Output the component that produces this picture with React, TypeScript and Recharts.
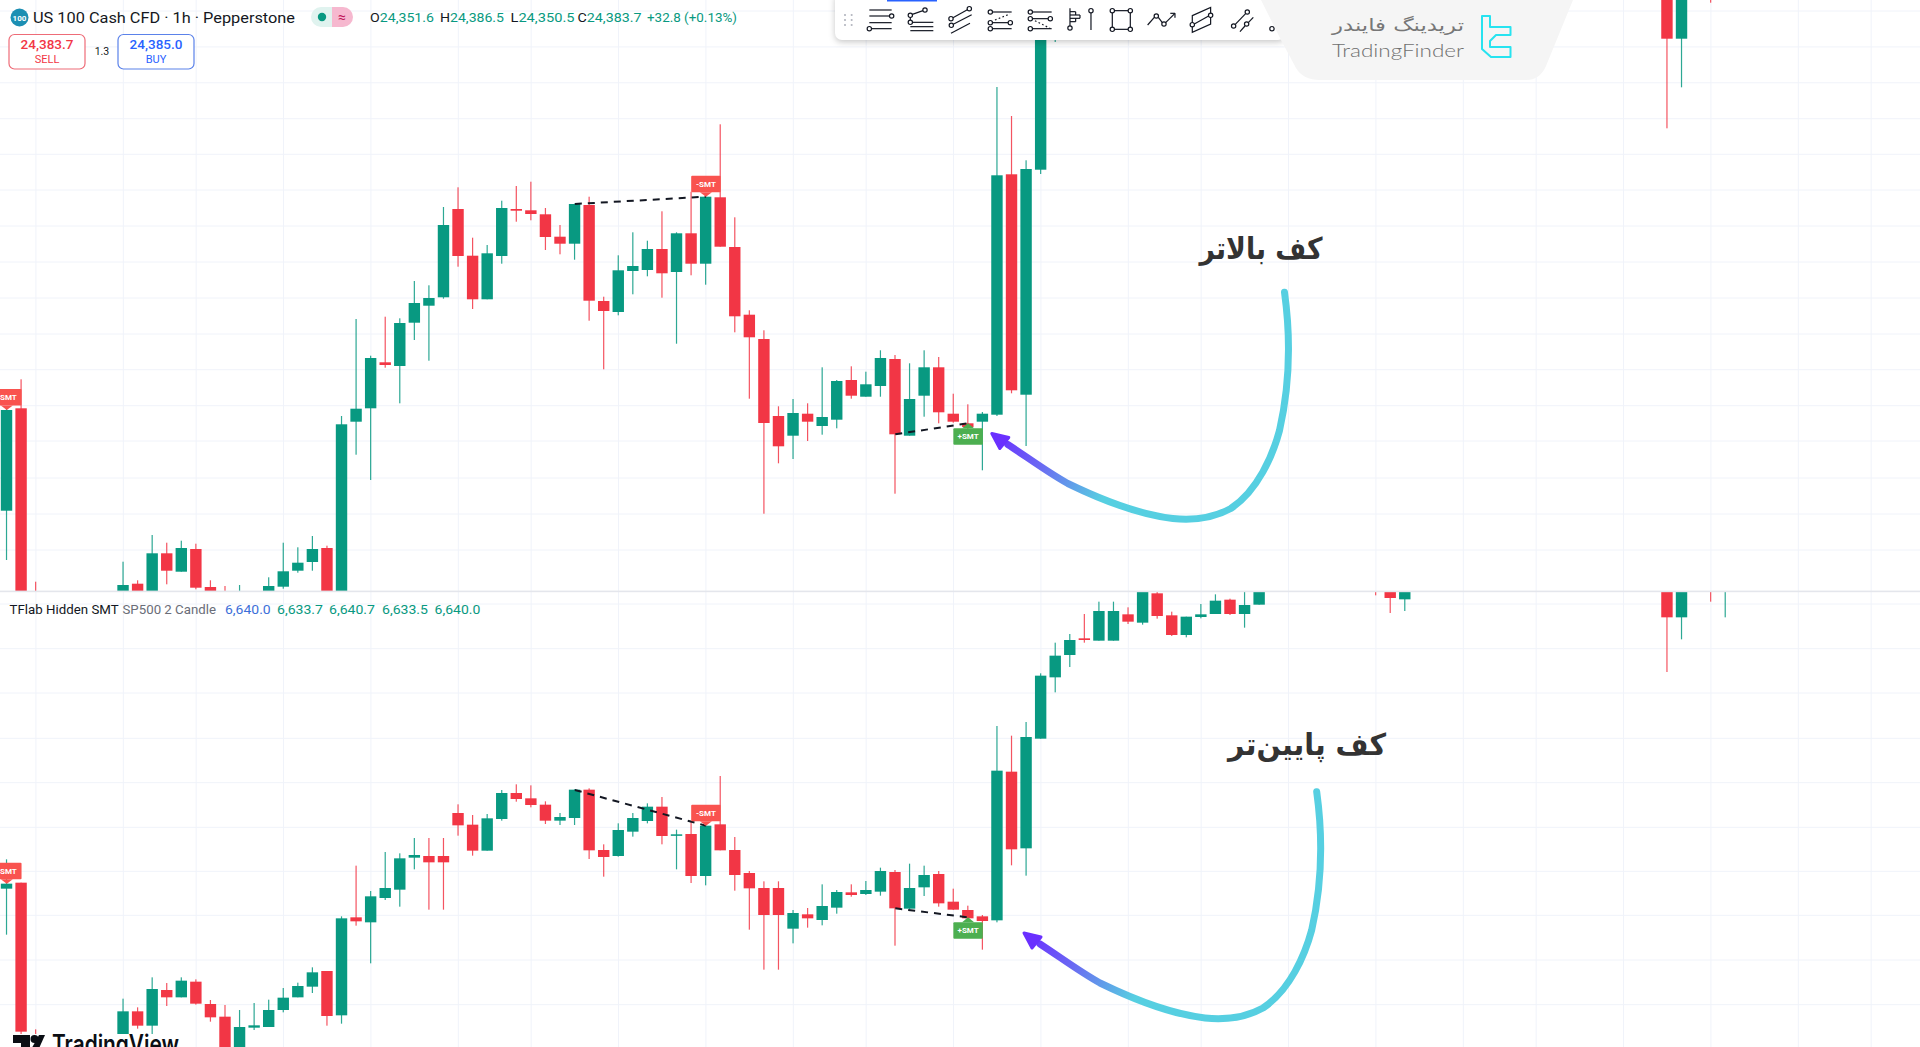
import React from 'react';
import { ComposedChart, Bar, XAxis, YAxis, CartesianGrid, ReferenceLine, ReferenceDot } from 'recharts';

// [bar index, open, high, low, close]
const topCandles: number[][] = [
  [0,24079.3,24182,24030,24180],[1,24181.7,24210.7,23950,23970],[2,23980,24008.3,23960,23970],
  [8,23990,24028.3,23980,24005],[9,24006.3,24009.7,23985,23990],[10,23990,24055,23985,24036.7],
  [11,24036.7,24047.3,24005.7,24019.3],[12,24018.3,24049.3,24018.3,24042],[13,24041,24046.3,24000.7,24002.3],
  [14,24003,24009.7,23985,23990],[15,23990,24004,23975,23980],[16,23980,24005,23975,23990],
  [18,23990,24012.7,23985,24004],[19,24003.3,24047.3,24001.3,24018.7],[20,24019.3,24042.7,24017.3,24027.3],
  [21,24028,24054,24019.3,24041],[22,24042,24044.3,23985,23990],[23,23990,24174,23985,24165.7],
  [24,24168.3,24271,24135.3,24181.3],[25,24181.7,24234.3,24110,24232],[26,24227.7,24273.3,24222.3,24225],
  [27,24224,24271.7,24186.7,24267],[28,24267.3,24309,24250,24287],[29,24284.3,24304.7,24229.3,24292],
  [30,24292.7,24383,24291.3,24365],[31,24381,24402.7,24323.3,24334],[32,24334.3,24352.3,24281,24290.7],
  [33,24290.7,24345,24290.7,24336.7],[34,24334,24389.3,24326.3,24382],[35,24381,24404,24368.3,24379.3],
  [36,24379.7,24408.3,24369.7,24376],[37,24375.7,24382,24340,24353],[38,24353.3,24365,24335.7,24346.3],
  [39,24346.3,24386.3,24330.3,24386],[40,24385,24393.3,24269.3,24289.3],[41,24289,24293.3,24220.7,24279],
  [42,24278,24334.7,24274.7,24319.7],[43,24319,24357.7,24295.7,24324],[44,24320,24349.3,24313.7,24341],
  [45,24341,24378.7,24292.3,24316.7],[46,24318,24357.7,24246.3,24356.7],[47,24356.7,24398.3,24314.7,24326.3],
  [48,24326.3,24395,24305.3,24393.3],[49,24392.7,24465.7,24343.3,24343.3],[50,24343,24372.7,24257.7,24273.7],
  [51,24275.3,24279.7,24191.3,24252.7],[52,24251,24259.7,24076.3,24167],[53,24174,24183.7,24126.7,24143.7],
  [54,24154.3,24191,24131,24177],[55,24176.3,24186.7,24149,24168.3],[56,24164,24222.7,24155.3,24173],
  [57,24170.3,24210,24161.7,24209],[58,24210,24223.7,24191.3,24194.3],[59,24193.3,24218.3,24193.3,24205.7],
  [60,24204,24239.7,24193.3,24232],[61,24231,24235,24096.3,24155.7],[62,24154.3,24226.7,24154.3,24191],
  [63,24194.3,24239.7,24173.3,24222.7],[64,24222.7,24233,24166.7,24177.7],[65,24176.3,24196.3,24167.3,24168.3],
  [66,24166.7,24185.7,24160,24163],[67,24168.3,24178,24119.7,24176.3],[68,24175.3,24503,24174,24414.7],
  [69,24415.7,24474,24196.7,24199.7],[70,24195.3,24429.7,24144,24421],[71,24420.3,24620,24416,24610],
  [72,24600,24650,24548,24630],[114,24610,24620,24461.7,24551.3],[115,24551.3,24620,24502.7,24610],
  [117,24630,24640,24587.3,24620],
];

const bottomCandles: number[][] = [
  [0,6610.4,6619.2,6596.6,6611.9],[1,6612.2,6612.2,6565.5,6567.5],[2,6560,6568.2,6557,6558],
  [8,6561,6577.4,6560,6573.6],[9,6573.6,6574.8,6568.4,6569.3],[10,6569.3,6583.8,6566.3,6580.3],
  [11,6580,6582.1,6575.2,6577.8],[12,6577.8,6583.8,6577.8,6582.8],[13,6582.5,6583.2,6575.6,6575.9],
  [14,6575.8,6577,6570.5,6571.8],[15,6572,6575.5,6558,6560],[16,6560,6574,6558,6568.9],
  [17,6568.7,6576.1,6568,6569.4],[18,6568.9,6577.1,6568.9,6574],[19,6574,6580.6,6573.3,6577.7],
  [20,6577.8,6582.2,6577.8,6581.2],[21,6581,6586.8,6579.1,6585.3],[22,6585.7,6585.7,6569.3,6572.2],
  [23,6572.4,6602.1,6569.9,6601.5],[24,6601.8,6617.3,6599.3,6600.6],[25,6600.3,6609.7,6588,6608.1],
  [26,6607.6,6621.4,6607,6610.6],[27,6610.1,6621,6605,6619.5],[28,6619.7,6625.6,6616.2,6620.5],
  [29,6620.2,6625.6,6604.1,6618.3],[30,6620.2,6625.6,6604.1,6618.3],[31,6633.1,6635.7,6626.3,6629.4],
  [32,6629.6,6632.5,6620.3,6621.8],[33,6621.8,6632.8,6621.8,6631.5],[34,6631.3,6640,6630.8,6639.1],
  [35,6639.1,6641.7,6636.5,6637.3],[36,6637.5,6641.4,6634.8,6635.5],[37,6635.6,6636.6,6629.8,6630.8],
  [38,6630.8,6633.1,6629.5,6631.9],[39,6631.6,6640.2,6629.5,6640.1],[40,6640.1,6640.5,6619.3,6621.9],
  [41,6622,6623.7,6614,6619.9],[42,6620.2,6630,6620,6628],[43,6627.5,6633.1,6626,6631.6],
  [44,6630.7,6636,6630,6635],[45,6635,6637.9,6623.7,6626.2],[46,6626.3,6628.1,6616.2,6626.7],
  [47,6626.8,6630.5,6612.1,6614.2],[48,6614.2,6629.8,6611.4,6629.3],[49,6629.7,6644.2,6621.9,6621.9],
  [50,6622,6625.9,6609.8,6614.5],[51,6615.1,6615.7,6598.1,6610.5],[52,6610.6,6612.6,6586.1,6602.5],
  [53,6610.6,6612.6,6586.1,6602.5],[54,6598.4,6604,6594,6603.1],[55,6602.7,6604.6,6598.7,6601.5],
  [56,6601,6611.7,6599.4,6605.2],[57,6604.7,6610,6602.9,6609.4],[58,6609.3,6611.7,6608,6608.5],
  [59,6608.8,6612.7,6608.5,6610],[60,6609.5,6616.7,6608.3,6615.7],[61,6615.4,6616,6593.3,6604.5],
  [62,6604.4,6617.9,6604.2,6610.6],[63,6610.8,6617.3,6608.2,6614.5],[64,6614.8,6615.7,6605,6606],
  [65,6606.5,6610.4,6604,6604.1],[66,6604,6605.3,6601,6601.5],[67,6602.1,6602.5,6592.1,6600.7],
  [68,6600.9,6659.2,6600.3,6645.8],[69,6645.5,6656.3,6617.4,6622.2],[70,6622.5,6660.4,6614.3,6655.9],
  [71,6655.4,6675,6655.4,6674.3],[72,6673.8,6684.2,6669.3,6680.3],[73,6680.5,6686.8,6676.9,6685],
  [74,6685.5,6692.8,6684.2,6685],[75,6684.8,6696.5,6684.8,6693.7],[76,6684.8,6696.5,6684.8,6693.7],
  [77,6692.7,6694.8,6689.8,6690.5],[78,6690.2,6704,6689.6,6703],[79,6699,6699.4,6691.4,6692.2],
  [80,6692.4,6693.5,6686.2,6686.5],[81,6686.5,6692,6685.8,6692],[82,6691.9,6695.8,6691.5,6692.7],
  [83,6692.8,6698.7,6692.8,6696.8],[84,6697.1,6697.4,6692.5,6692.8],[85,6692.8,6699.4,6688.7,6695.5],
  [86,6695.6,6702,6695.6,6701],[94,6704,6705,6698.4,6702],[95,6702,6703,6693.1,6697.6],
  [96,6697.2,6703,6693.7,6702],[114,6702,6703,6675.4,6691.8],[115,6691.8,6703,6685.2,6702],
  [117,6704,6705,6696.5,6702],[118,6702,6705,6691.8,6704],
];

const timeGrid = [2,8,13,19,25,31,36,42,48,54,59,65,71,77,82,88,94,100,105,111,117,123,128];
const topPriceGrid = [24579,24543.1,24507.2,24471.3,24435.7,24400,24364,24328,24292,24256,24220.3,24184.3,24149,24112,24076,24040];
const bottomPriceGrid = [6695.8,6682.4,6669.1,6655.5,6642.2,6628.8,6615.6,6602.4,6589,6575.6];
const indexDomain = [-0.4669, 131.354];
const topDomain = [23999, 24590];
const bottomDomain = [6562.9, 6699.4];

const topDashes = [[39,24386,48,24393.3],[61,24155.7,66,24166.7]];
const bottomDashes = [[39,6640,48,6629.3],[61,6604.5,66,6601.8]];
// [bar index, price of the flag's tip, text]
const topFlags: [number, number, string][] = [[0,24180,'-SMT'],[48,24393.3,'-SMT'],[66,24166.7,'+SMT']];
const bottomFlags: [number, number, string][] = [[0,6611.9,'-SMT'],[48,6629.3,'-SMT'],[66,6601.8,'+SMT']];

const UP = '#089981';
const DOWN = '#f23645';
const UI_FONT = 'Roboto, "Noto Sans", sans-serif';

const toRows = (rows: number[][]) => rows.map(([i, o, h, l, c]) => ({ i, o, h, l, c, range: [l, h] }));

function Candle(props: any) {
  const { x, y, width, height, payload } = props;
  const { o, h, l, c } = payload;
  const perUnit = height / (h - l);
  const cx = x + width / 2;
  const color = c >= o ? UP : DOWN;
  const top = y + (h - Math.max(o, c)) * perUnit;
  const bodyH = Math.max(1.5, Math.abs(o - c) * perUnit);
  return (
    <g>
      <rect x={cx - 0.6} y={y} width={1.2} height={Math.max(height, 1)} fill={color} opacity={0.85} />
      <rect x={cx - 5.7} y={top} width={11.4} height={bodyH} fill={color} />
    </g>
  );
}

function Flag(props: any) {
  const { cx, cy, text } = props;
  const up = text.startsWith('+');
  const fill = up ? '#4caf50' : '#f9534f';
  const w = 29.5;
  const boxTop = up ? cy + 5 : cy - 21;
  const boxBottom = boxTop + 16.5;
  const tip = up
    ? `M${cx - 6} ${boxTop} L${cx} ${cy} L${cx + 6} ${boxTop} Z`
    : `M${cx - 6} ${boxBottom} L${cx} ${cy} L${cx + 6} ${boxBottom} Z`;
  return (
    <g>
      <rect x={cx - w / 2} y={boxTop} width={w} height={16.5} rx={1} fill={fill} />
      <path d={tip} fill={fill} />
      <text x={cx} y={boxTop + 11} textAnchor="middle" fontFamily={UI_FONT} fontSize={8} fontWeight={700} fill="#ffffff">{text}</text>
    </g>
  );
}

function Pane({ rows, width, height, domain, priceGrid, dashes, flags }: any) {
  return (
    <ComposedChart width={width} height={height} data={toRows(rows)} margin={{ top: 0, right: 0, bottom: 0, left: 0 }}>
      <CartesianGrid stroke="#f0f3fa" strokeWidth={1} verticalValues={timeGrid} horizontalValues={priceGrid} />
      <XAxis dataKey="i" type="number" domain={indexDomain} allowDataOverflow hide />
      <YAxis type="number" domain={domain} allowDataOverflow hide />
      <Bar dataKey="range" barSize={12} shape={<Candle />} isAnimationActive={false} />
      {dashes.map(([x1, y1, x2, y2]: number[], n: number) => (
        <ReferenceLine key={n} segment={[{ x: x1, y: y1 }, { x: x2, y: y2 }]} stroke="#131722" strokeWidth={2} strokeDasharray="7 6" ifOverflow="visible" />
      ))}
      {flags.map(([x, y, text]: [number, number, string], n: number) => (
        <ReferenceDot key={n} x={x} y={y} r={0} ifOverflow="visible" shape={(p: any) => <Flag cx={p.cx} cy={p.cy} text={text} />} />
      ))}
    </ComposedChart>
  );
}

function Curve({ dx, dy, id }: { dx: number; dy: number; id: string }) {
  return (
    <g transform={`translate(${dx} ${dy})`}>
      <defs>
        <linearGradient id={id} gradientUnits="userSpaceOnUse" x1={1030} y1={935} x2={1130} y2={1005}>
          <stop offset="0" stopColor="#6a30ff" />
          <stop offset="0.45" stopColor="#6a6cf2" />
          <stop offset="1" stopColor="#56cfe1" />
        </linearGradient>
      </defs>
      <path
        d="M1316.7 791.7 C1322 830 1323 880 1311.7 930 C1305 955 1290 990 1263 1008 C1245 1018 1225 1020 1205 1018 C1170 1014 1135 1000 1100 983 C1080 972 1060 957 1040 944"
        fill="none" stroke={`url(#${id})`} strokeWidth={7} strokeLinecap="round"
      />
      <path d="M1024 933 L1041 937 L1032 948 Z" fill="#6a30ff" stroke="#6a30ff" strokeWidth={3} strokeLinejoin="round" />
    </g>
  );
}

function ToolbarIcons() {
  const line = (a: number, b: number, c: number, d: number, dash?: string) => (
    <line x1={a} y1={b} x2={c} y2={d} strokeDasharray={dash} key={`${a}-${b}-${c}-${d}`} />
  );
  const dot = (a: number, b: number) => <circle cx={a} cy={b} r={6.5} fill="#fff" key={`c${a}-${b}`} />;
  return (
    <g transform="translate(835 0) scale(0.3333)" stroke="#131722" strokeWidth={3.6} fill="none">
      {[line(103,30,170,30),line(103,48,163,48),dot(170,48),line(103,68,170,68),line(110,86,170,86),dot(103,86)]}
      {[line(232,43,264,32),dot(226,46),dot(270,30),line(226,52,226,61),dot(226,67),line(232,67,295,67),line(226,80,295,80),line(226,92,295,92)]}
      {[line(354,53,397,29),dot(348,56),dot(403,26),line(355,73,410,44),dot(349,76),line(348,100,405,70)]}
      {[line(472,36,530,36),dot(466,36),line(480,60,525,42,'5 7'),line(472,68,520,68),dot(466,68),dot(526,68),line(472,86,530,86),dot(466,86)]}
      {[line(592,36,650,36),dot(586,36),line(592,56,640,56),dot(586,56),dot(646,56),line(600,62,645,85,'5 7'),line(592,86,650,86),dot(586,86)]}
      {[line(705,25,705,78),dot(705,84),line(705,35,722,35),line(722,35,722,45),line(705,45,735,45),line(735,45,735,55),line(705,55,735,55),line(722,55,722,65),line(705,65,722,65),line(768,38,768,90),dot(768,32)]}
      <rect x={832} y={32} width={54} height={56} />
      {[dot(832,32),dot(886,32),dot(832,88),dot(886,88)]}
      {[line(938,75,958,52),dot(964,48),line(970,52,982,68),dot(987,72),line(992,68,1020,40),line(1006,40,1020,40),line(1020,40,1020,53)]}
      <path d="M1072 47 L1127 22 L1127 72 L1072 97 Z" />
      {[line(1078,72,1121,48),dot(1072,74),dot(1127,46)]}
      {[line(1201,73,1232,41),dot(1196,78),dot(1237,36),line(1215,95,1230,78),line(1240,68,1255,52),dot(1235,72)]}
      {dot(1311,86)}
      <g fill="#b2b5be" stroke="none">
        {[30, 50].map((a) => [45, 60, 75].map((b) => <circle key={`${a}${b}`} cx={a} cy={b} r={3.2} />))}
      </g>
    </g>
  );
}

function Header() {
  const valueStyle = { fontFamily: UI_FONT, fontSize: 13 };
  const ohlc: [number, string, string][] = [[370,'O','24,351.6'],[440,'H','24,386.5'],[510.5,'L','24,350.5'],[577.5,'C','24,383.7']];
  const legendValues: [number, number, string, string][] = [
    [225,45.7,'6,640.0','#3d6fd9'],[277,46,'6,633.7',UP],[329,46,'6,640.7',UP],[382,46,'6,633.5',UP],[434.6,45.7,'6,640.0',UP],
  ];
  return (
    <g>
      <circle cx={19.5} cy={17.5} r={9} fill="#1c8fb3" />
      <text x={19.5} y={20.5} textAnchor="middle" fontSize={8} fontWeight={700} fontFamily={UI_FONT} fill="#fff">100</text>
      <text x={33} y={22.5} fontSize={15} fontFamily={UI_FONT} fill="#131722" textLength={262} lengthAdjust="spacingAndGlyphs">US 100 Cash CFD · 1h · Pepperstone</text>
      <path d="M332 7 L321 7 A10 10 0 0 0 321 27 L332 27 Z" fill="#e0f3ef" />
      <path d="M332 7 L343 7 A10 10 0 0 1 343 27 L332 27 Z" fill="#f6b8cf" />
      <circle cx={322} cy={17} r={4.2} fill={UP} />
      <text x={342} y={22} textAnchor="middle" fontSize={14} fontFamily={UI_FONT} fill="#c2185b">≈</text>
      {ohlc.map(([x, k, v]) => (
        <text key={k} x={x} y={22} style={valueStyle} textLength={64} lengthAdjust="spacingAndGlyphs">
          <tspan fill="#131722">{k}</tspan><tspan fill={UP}>{v}</tspan>
        </text>
      ))}
      <text x={647} y={22} style={valueStyle} fill={UP} textLength={90} lengthAdjust="spacingAndGlyphs">+32.8 (+0.13%)</text>

      <rect x={9} y={34.5} width={76} height={34.5} rx={5.5} fill="#fff" stroke="#ee6c78" strokeWidth={1.2} />
      <text x={47} y={49} textAnchor="middle" fontSize={13.5} fontWeight={500} fontFamily={UI_FONT} fill={DOWN}>24,383.7</text>
      <text x={47} y={63} textAnchor="middle" fontSize={11} fontFamily={UI_FONT} fill={DOWN}>SELL</text>
      <text x={102} y={55} textAnchor="middle" fontSize={10.5} fontFamily={UI_FONT} fill="#131722">1.3</text>
      <rect x={118} y={34.5} width={76} height={34.5} rx={5.5} fill="#fff" stroke="#5b82ea" strokeWidth={1.2} />
      <text x={156} y={49} textAnchor="middle" fontSize={13.5} fontWeight={500} fontFamily={UI_FONT} fill="#2962ff">24,385.0</text>
      <text x={156} y={63} textAnchor="middle" fontSize={11} fontFamily={UI_FONT} fill="#2962ff">BUY</text>

      <text x={9.6} y={614} fontSize={13} fontFamily={UI_FONT} fill="#131722" textLength={109} lengthAdjust="spacingAndGlyphs">TFlab Hidden SMT</text>
      <text x={122.5} y={614} fontSize={13} fontFamily={UI_FONT} fill="#6a6d78" textLength={93.5} lengthAdjust="spacingAndGlyphs">SP500 2 Candle</text>
      {legendValues.map(([x, w, v, color], n) => (
        <text key={n} x={x} y={614} fontSize={13} fontFamily={UI_FONT} fill={color} textLength={w} lengthAdjust="spacingAndGlyphs">{v}</text>
      ))}
    </g>
  );
}

function Branding() {
  return (
    <g>
      <path d="M1261 0 L1281 40 L1296 68 Q1303 80 1320 80 L1526 80 Q1540 80 1546 66 L1573 0 Z" fill="#f5f5f5" />
      <text x={1398} y={31} textAnchor="middle" direction="rtl" fontSize={17} fontFamily='"DejaVu Sans", sans-serif' fill="#777" textLength={132} lengthAdjust="spacingAndGlyphs">تریدینگ فایندر</text>
      <text x={1332} y={57} fontSize={18} fontWeight={300} fontFamily='Lato, Inter, sans-serif' fill="#707070" textLength={132} lengthAdjust="spacingAndGlyphs">TradingFinder</text>
      <path d="M1482 16 H1490 V27 H1510.5 V35 H1496 L1490 41 V47 H1510.5 V57 H1491 L1482 49 V36 Z" fill="none" stroke="#27e3f0" strokeWidth={2} strokeLinejoin="round" />
      <rect x={8} y={1034} width={176} height={13} fill="#fff" />
      <path d="M13 1035 H30 V1055 H21 V1043 H13 Z" fill="#0b0e14" />
      <circle cx={34.5} cy={1039} r={4} fill="#0b0e14" />
      <path d="M39 1035 H45 L36 1055 H28 Z" fill="#0b0e14" />
      <text x={52} y={1053} fontSize={25} fontWeight={600} fontFamily='Inter, Roboto, sans-serif' fill="#0b0e14" textLength={127} lengthAdjust="spacingAndGlyphs">TradingView</text>
    </g>
  );
}

export default function App() {
  return (
    <div style={{ position: 'absolute', left: 0, top: 0, width: 1920, height: 1047, overflow: 'hidden', background: '#fff' }}>
      <div style={{ position: 'absolute', left: 0, top: 0 }}>
        <Pane rows={topCandles} width={1920} height={591} domain={topDomain} priceGrid={topPriceGrid} dashes={topDashes} flags={topFlags} />
      </div>
      <div style={{ position: 'absolute', left: 0, top: 592 }}>
        <Pane rows={bottomCandles} width={1920} height={455} domain={bottomDomain} priceGrid={bottomPriceGrid} dashes={bottomDashes} flags={bottomFlags} />
      </div>
      <svg width={1920} height={1047} style={{ position: 'absolute', left: 0, top: 0, pointerEvents: 'none' }}>
        <rect x={0} y={590.6} width={1920} height={1.6} fill="#e4e6ec" />
        <Curve id="curveTop" dx={-32.2} dy={-499.5} />
        <Curve id="curveBottom" dx={0} dy={0} />
        <text x={1261} y={259} textAnchor="middle" direction="rtl" fontSize={30} fontWeight={700} fontFamily='"DejaVu Sans", sans-serif' fill="#333" textLength={123} lengthAdjust="spacingAndGlyphs">کف بالاتر</text>
        <text x={1307} y={755} textAnchor="middle" direction="rtl" fontSize={30} fontWeight={700} fontFamily='"DejaVu Sans", sans-serif' fill="#333" textLength={158} lengthAdjust="spacingAndGlyphs">کف پایین‌تر</text>
        <rect x={835} y={-8} width={450} height={48} rx={7} fill="#fff" style={{ filter: 'drop-shadow(0 2px 3px rgba(0,0,0,0.22))' }} />
        <rect x={887} y={0} width={50} height={1.5} fill="#2962ff" />
        <ToolbarIcons />
        <Branding />
        <Header />
      </svg>
    </div>
  );
}
